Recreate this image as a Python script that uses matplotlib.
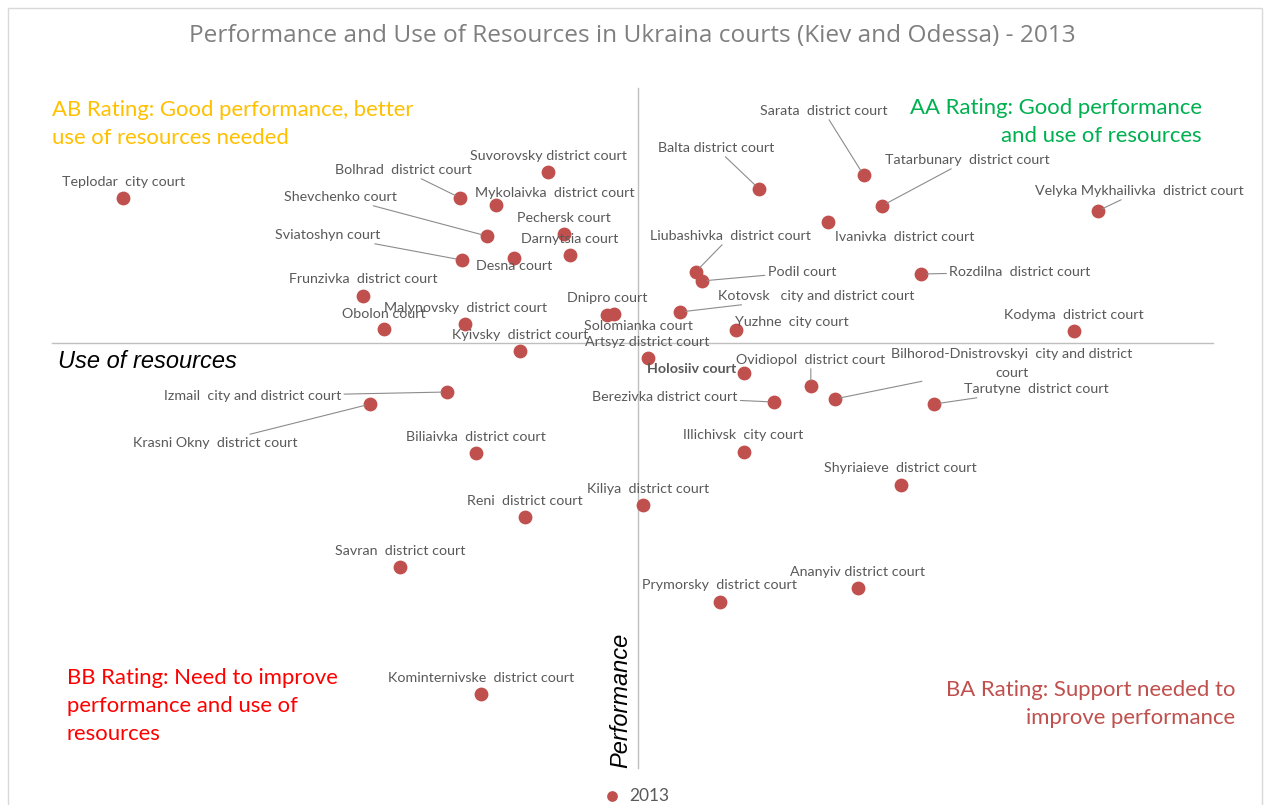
import matplotlib.pyplot as plt
from matplotlib.patches import Rectangle

## Data: (use of resources, performance) per court, centred on the two axes
courts = [
    "Teplodar  city court", "Bolhrad  district court", "Suvorovsky district court",
    "Mykolaivka  district court", "Shevchenko court", "Pechersk court",
    "Darnytsia court", "Sviatoshyn court", "Desna court",
    "Frunzivka  district court", "Obolon court", "Malynovsky  district court",
    "Kyivsky  district court", "Dnipro court", "Solomianka court",
    "Artsyz district court", "Holosiiv court", "Kotovsk   city and district court",
    "Liubashivka  district court", "Podil court", "Balta district court",
    "Sarata  district court", "Tatarbunary  district court", "Ivanivka  district court",
    "Velyka Mykhailivka  district court", "Rozdilna  district court", "Yuzhne  city court",
    "Kodyma  district court", "Ovidiopol  district court",
    "Bilhorod-Dnistrovskyi  city and district\ncourt", "Tarutyne  district court",
    "Berezivka district court", "Illichivsk  city court", "Shyriaieve  district court",
    "Kiliya  district court", "Reni  district court", "Savran  district court",
    "Prymorsky  district court", "Ananyiv district court", "Kominternivske  district court",
    "Biliaivka  district court", "Izmail  city and district court",
    "Krasni Okny  district court",
]
resources = [
    -4.29, -1.48, -0.75, -1.18, -1.26, -0.62, -0.57, -1.47, -1.03, -2.29, -2.12,
    -1.44, -0.98, -0.20, -0.26, 0.08, 0.88, 0.35, 0.48, 0.53, 1.01, 1.88, 2.03,
    1.58, 3.83, 2.36, 0.82, 3.63, 1.44, 1.64, 2.47, 1.13, 0.88, 2.19, 0.04,
    -0.94, -1.98, 0.68, 1.83, -1.31, -1.35, -1.59, -2.23,
]
performance = [
    1.45, 1.45, 1.71, 1.38, 1.07, 1.09, 0.88, 0.83, 0.85, 0.47, 0.14, 0.19,
    -0.08, 0.29, 0.28, -0.15, -0.30, 0.31, 0.71, 0.62, 1.54, 1.68, 1.37, 1.21,
    1.32, 0.69, 0.13, 0.12, -0.43, -0.56, -0.61, -0.59, -1.09, -1.42, -1.62,
    -1.74, -2.24, -2.59, -2.45, -3.51, -1.10, -0.49, -0.61,
]

## Label layout: offset in pixels from the point (dx right, dy down), alignment, leader line
default_layout = (0, -16, "center", False)
layout = {
    "Bolhrad  district court": (-57, -28, "center", True),
    "Mykolaivka  district court": (58, -12, "center", False),
    "Shevchenko court": (-90, -39, "right", True),
    "Sviatoshyn court": (-81, -25, "right", True),
    "Desna court": (0, 8, "center", False),
    "Frunzivka  district court": (0, -17, "center", False),
    "Obolon court": (0, -15, "center", False),
    "Dnipro court": (-7, -16, "center", False),
    "Solomianka court": (32, 11, "center", False),
    "Holosiiv court": (-7, -4, "right", False),
    "Kotovsk   city and district court": (38, -16, "left", True),
    "Liubashivka  district court": (35, -36, "center", True),
    "Podil court": (66, -9, "left", True),
    "Balta district court": (-43, -41, "center", True),
    "Sarata  district court": (-40, -64, "center", True),
    "Tatarbunary  district court": (86, -46, "center", True),
    "Ivanivka  district court": (77, 15, "center", False),
    "Velyka Mykhailivka  district court": (42, -20, "center", True),
    "Rozdilna  district court": (28, -2, "left", True),
    "Yuzhne  city court": (-1, -8, "left", False),
    "Ovidiopol  district court": (0, -26, "center", True),
    "Bilhorod-Dnistrovskyi  city and district\ncourt": (177, -36, "center", True),
    "Tarutyne  district court": (30, -15, "left", True),
    "Berezivka district court": (-36, -5, "right", True),
    "Illichivsk  city court": (0, -17, "center", False),
    "Shyriaieve  district court": (0, -17, "center", False),
    "Kiliya  district court": (5, -16, "center", False),
    "Prymorsky  district court": (0, -17, "center", False),
    "Izmail  city and district court": (-106, 4, "right", True),
    "Krasni Okny  district court": (-73, 39, "right", True),
}

title = "Performance and Use of Resources in Ukraina courts (Kiev and Odessa) - 2013"
point_color = "#C0504D"
label_color = "#595959"

fig = plt.figure(figsize=(12.64, 8.05), dpi=100)
ax = fig.add_axes([0, 0, 1, 1])
# pixel 638 -> x=0, 120 px per unit; pixel 343 -> y=0, 100 px per unit
ax.set_xlim(-638 / 120, (1264 - 638) / 120)
ax.set_ylim((343 - 805) / 100, 343 / 100)
ax.axis("off")

fig.patches.append(Rectangle((8 / 1264, -0.01), 1254 / 1264, 1 - 8 / 805 + 0.01,
                             transform=fig.transFigure, fill=False,
                             edgecolor="#D9D9D9", lw=1))

# quadrant axes
ax.plot([-4.88, 4.79], [0, 0], color="#BFBFBF", lw=1, zorder=1)
ax.plot([0, 0], [2.55, -4.25], color="#BFBFBF", lw=1, zorder=1)

ax.scatter(resources, performance, s=80, color=point_color, zorder=3, label="2013")

for name, x, y in zip(courts, resources, performance):
    dx, dy, ha, leader = layout.get(name, default_layout)
    arrow = None
    if leader:
        arrow = dict(arrowstyle="-", color="#8C8C8C", lw=0.8, shrinkA=0, shrinkB=4)
    ax.annotate(
        name, (x, y), xytext=(dx, -dy), textcoords="offset pixels",
        ha=ha, va="center", multialignment="center", linespacing=1.7,
        fontsize=10.3, family="Lato", color=label_color,
        fontweight="bold" if name == "Holosiiv court" else "normal",
        arrowprops=arrow, zorder=4,
    )

fig.text(0.5, 1 - 36 / 805, title, ha="center", va="center",
         fontsize=17.6, family="Open Sans", color="#7F7F7F")

quad = dict(fontsize=15.9, family="Lato", va="center", linespacing=1.53)
fig.text(52 / 1264, 1 - 124 / 805, "AB Rating: Good performance, better\nuse of resources needed",
         ha="left", color="#FFC000", **quad)
fig.text(1202 / 1264, 1 - 122 / 805, "AA Rating: Good performance\nand use of resources",
         ha="right", multialignment="right", color="#00B050", **quad)
fig.text(67 / 1264, 1 - 706 / 805, "BB Rating: Need to improve\nperformance and use of\nresources",
         ha="left", color="#FF0000", **quad)
fig.text(1235 / 1264, 1 - 704 / 805, "BA Rating: Support needed to\nimprove performance",
         ha="right", multialignment="right", color="#C0504D", **quad)

fig.text(58 / 1264, 1 - 361 / 805, "Use of resources", ha="left", va="center",
         fontsize=17, style="italic", family="Liberation Sans", color="black")
fig.text(621 / 1264, 1 - 700 / 805, "Performance", ha="center", va="center",
         rotation=90, fontsize=17, style="italic", family="Liberation Sans", color="black")

leg = fig.legend(loc="lower center", bbox_to_anchor=(0.5, -0.018), frameon=False,
                 handletextpad=0.0, markerscale=0.75,
                 prop={"family": "Lato", "size": 12.5})
for t in leg.get_texts():
    t.set_color(label_color)

fig.savefig("out.png", dpi=100)
